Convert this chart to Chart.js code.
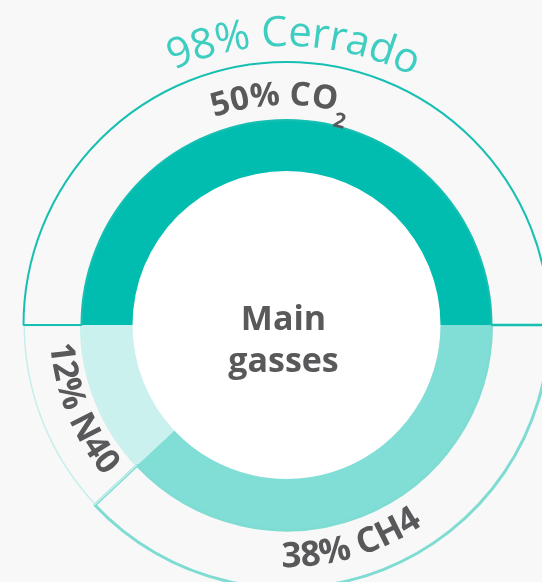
<!DOCTYPE html>
<html>
<head>
<meta charset="utf-8">
<script src="https://cdn.jsdelivr.net/npm/chart.js@4.4.1/dist/chart.umd.min.js"></script>
<style>
  html, body { margin: 0; padding: 0; background: #f8f8f8; overflow: hidden; }
  canvas { display: block; }
</style>
</head>
<body>
<canvas id="c" width="542" height="582"></canvas>
<script>
// ---- data ----
const categories = ['CH4', 'N40', 'CO2'];
const innerValues = [38, 12, 50];
const outerValues = [38, 12, 50];
const innerLabels = ['38% CH4', '12% N40', '50% CO'];
const outerLabel = '98% Cerrado';
const centerLines = ['Main', 'gasses'];

const innerColors = ['#80ded6', '#caf1ed', '#00bdaf'];
const outerBorders = ['#7fdcd3', '#c6efeb', '#17bfb2'];
const TEXT_GRAY = '#59595b';

function arcText(ctx, segs, cx, cy, r, centerDeg, dir) {
  let total = 0;
  segs.forEach(s => { ctx.font = s.font; for (const ch of s.text) total += ctx.measureText(ch).width + (s.ls || 0); });
  let theta = centerDeg * Math.PI / 180 - dir * (total / 2) / r;
  ctx.textAlign = 'center';
  ctx.textBaseline = 'alphabetic';
  segs.forEach(s => {
    ctx.font = s.font;
    ctx.fillStyle = s.color;
    const rr = r + (s.dr || 0) * (dir > 0 ? 1 : -1);
    for (const ch of s.text) {
      const w = ctx.measureText(ch).width + (s.ls || 0);
      const tc = theta + dir * (w / 2) / r;
      const phi = tc - Math.PI / 2;
      ctx.save();
      ctx.translate(cx + rr * Math.cos(phi), cy + rr * Math.sin(phi));
      ctx.rotate(dir > 0 ? tc : tc - Math.PI);
      ctx.fillText(ch, 0, 0);
      ctx.restore();
      theta += dir * w / r;
    }
  });
}

const decor = {
  id: 'decor',
  beforeDatasetsDraw(chart) {
    const arc = chart.getDatasetMeta(1).data[0];
    const ctx = chart.ctx;
    ctx.save();
    ctx.beginPath();
    ctx.arc(arc.x, arc.y, arc.innerRadius, 0, Math.PI * 2);
    ctx.fillStyle = '#ffffff';
    ctx.fill();
    ctx.restore();
  },
  afterDatasetsDraw(chart) {
    const ctx = chart.ctx;
    const outer = chart.getDatasetMeta(0).data;
    const cx = outer[0].x, cy = outer[0].y;
    const mid = a => ((a.startAngle + a.endAngle) / 2 + Math.PI / 2) * 180 / Math.PI;
    ctx.save();
    arcText(ctx, [{ text: outerLabel, font: '42px "Open Sans"', color: '#3ecdc1', ls: -0.5 }],
      cx, cy, 279, mid(outer[2]) - 360 + 1.5, 1);
    arcText(ctx, [
      { text: innerLabels[2], font: 'bold 33px "Open Sans"', color: TEXT_GRAY },
      { text: '2', font: 'bold 21px "Open Sans"', color: TEXT_GRAY, dr: -16 }
    ], cx, cy, 220, mid(outer[2]) - 360 - 1.5, 1);
    arcText(ctx, [{ text: innerLabels[0], font: 'bold 35px "Open Sans"', color: TEXT_GRAY }],
      cx, cy, 242, mid(outer[0]) + 5, -1);
    arcText(ctx, [{ text: innerLabels[1], font: 'bold 34px "Open Sans"', color: TEXT_GRAY }],
      cx, cy, 237, mid(outer[1]) - 0.5, -1);
    ctx.fillStyle = TEXT_GRAY;
    ctx.font = 'bold 34px "Open Sans"';
    ctx.textAlign = 'center';
    ctx.textBaseline = 'alphabetic';
    ctx.fillText(centerLines[0], cx - 3, 330);
    ctx.fillText(centerLines[1], cx - 3, 372);
    ctx.restore();
  }
};

new Chart(document.getElementById('c'), {
  type: 'doughnut',
  data: {
    labels: categories,
    datasets: [
      {
        data: outerValues,
        weight: 58,
        backgroundColor: 'rgba(0,0,0,0)',
        borderColor: outerBorders,
        borderWidth: [3, 1.2, 2],
        borderAlign: ['center', 'inner', 'center'],
        clip: false
      },
      {
        data: innerValues,
        weight: 51,
        backgroundColor: innerColors,
        borderWidth: 0,
        clip: false
      }
    ]
  },
  options: {
    responsive: false,
    animation: false,
    events: [],
    rotation: 90,
    radius: 263,
    cutout: (154 / 263 * 100) + '%',
    layout: { padding: { left: 31, top: 68, right: 0, bottom: 0 } },
    plugins: { legend: { display: false }, tooltip: { enabled: false } }
  },
  plugins: [decor]
});
</script>
</body>
</html>
